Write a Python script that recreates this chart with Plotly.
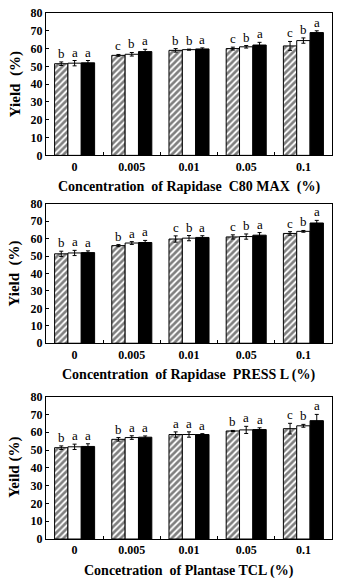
import plotly.graph_objects as go

categories = ["0", "0.005", "0.01", "0.05", "0.1"]

# Panel 1: Rapidase C80 MAX
p1_s1 = [51.5, 56.2, 59.0, 60.0, 61.5]
p1_s1_err = [1.0, 0.5, 1.0, 0.8, 2.5]
p1_s2 = [51.8, 56.8, 59.4, 61.0, 64.5]
p1_s2_err = [1.5, 1.0, 0.3, 0.7, 1.5]
p1_s3 = [52.0, 58.3, 59.8, 62.0, 69.0]
p1_s3_err = [1.3, 1.3, 0.6, 1.5, 1.0]
p1_letters = [["b", "c", "b", "c", "c"], ["a", "b", "b", "b", "b"], ["a", "a", "a", "a", "a"]]

# Panel 2: Rapidase PRESS L
p2_s1 = [51.3, 56.0, 59.8, 61.0, 63.0]
p2_s1_err = [1.5, 0.6, 1.8, 1.2, 1.0]
p2_s2 = [51.8, 57.5, 60.3, 61.2, 64.2]
p2_s2_err = [1.5, 0.8, 1.5, 1.5, 0.5]
p2_s3 = [52.0, 57.8, 60.7, 62.0, 69.0]
p2_s3_err = [1.0, 1.2, 1.0, 1.5, 1.5]
p2_letters = [["b", "b", "c", "c", "c"], ["a", "a", "b", "b", "b"], ["a", "a", "a", "a", "a"]]

# Panel 3: Plantase TCL
p3_s1 = [51.3, 56.0, 58.7, 60.7, 62.0]
p3_s1_err = [1.0, 1.0, 1.5, 0.3, 3.0]
p3_s2 = [51.8, 57.0, 58.7, 61.3, 63.6]
p3_s2_err = [1.5, 1.0, 1.5, 2.0, 0.8]
p3_s3 = [52.0, 57.2, 58.7, 61.5, 66.5]
p3_s3_err = [1.5, 0.7, 0.5, 1.0, 3.5]
p3_letters = [["b", "b", "a", "b", "c"], ["a", "a", "a", "a", "b"], ["a", "a", "a", "a", "a"]]

NB = "\u00a0"
x_titles = ["Concentration" + NB + " of Rapidase" + NB + " C80 MAX" + NB + " (%)",
            "Concentration" + NB + " of Rapidase" + NB + " PRESS L (%)",
            "Concetration" + NB + " of Plantase TCL (%)"]
y_titles = ["Yield" + NB + " (%)", "Yield" + NB + " (%)", "Yeild (%)"]
y_ticks = [0, 10, 20, 30, 40, 50, 60, 70, 80]

panels = [
    (p1_s1, p1_s1_err, p1_s2, p1_s2_err, p1_s3, p1_s3_err, p1_letters),
    (p2_s1, p2_s1_err, p2_s2, p2_s2_err, p2_s3, p2_s3_err, p2_letters),
    (p3_s1, p3_s1_err, p3_s2, p3_s2_err, p3_s3, p3_s3_err, p3_letters),
]

W, H = 338, 578
ml, mr, mt, mb = 46, 5, 6, 39
ph = H - mt - mb
def py(px):
    return (H - mb - px) / ph

domains = [(py(151), py(7)), (py(341), py(200)), (py(539), py(395))]

FONT = "Liberation Serif"
fig = go.Figure()

styles = [
    dict(marker=dict(color="white", line=dict(color="black", width=1),
                     pattern=dict(shape="/", fgcolor="black", bgcolor="white", size=4.5, solidity=0.6))),
    dict(marker=dict(color="white", line=dict(color="black", width=1))),
    dict(marker=dict(color="black", line=dict(color="black", width=1))),
]

offsets = [-1, 0, 1]
for i, (s1, e1, s2, e2, s3, e3, letters) in enumerate(panels):
    ax = "" if i == 0 else str(i + 1)
    for j, (vals, errs) in enumerate([(s1, e1), (s2, e2), (s3, e3)]):
        fig.add_trace(go.Bar(
            x=categories, y=vals, xaxis="x" + ax, yaxis="y" + ax,
            error_y=dict(type="data", array=errs, color="black", thickness=1, width=2),
            showlegend=False, offsetgroup=str(j), **styles[j]))
        for k, c in enumerate(categories):
            fig.add_annotation(
                x=k + offsets[j] * 0.2333, y=vals[k] + errs[k],
                xref="x" + ax, yref="y" + ax, text=letters[j][k],
                showarrow=False, yanchor="bottom", yshift=-1,
                font=dict(family=FONT, size=13, color="black"))
    fig.update_layout(**{
        "xaxis" + ax: dict(domain=[0, 1], anchor="y" + ax, type="category",
                           range=[-0.5, 4.5], ticks="inside", tickson="boundaries",
                           ticklen=3, tickcolor="black", showline=True, linecolor="black",
                           linewidth=1, mirror=True, showgrid=False,
                           tickfont=dict(family=FONT, size=12, color="black", weight="bold")),
        "yaxis" + ax: dict(domain=list(domains[i]), anchor="x" + ax, range=[0, 80],
                           tickvals=y_ticks, ticks="inside", ticklen=3, tickcolor="black",
                           showline=True, linecolor="black", linewidth=1, mirror=True,
                           showgrid=False, zeroline=False,
                           tickfont=dict(family=FONT, size=12, color="black", weight="bold")),
    })
    fig.add_annotation(
        x=0.5, y=0, xref="x" + ax + " domain", yref="y" + ax + " domain",
        text=x_titles[i], showarrow=False, yanchor="middle", yshift=-32,
        font=dict(family=FONT, size=14, color="black", weight="bold"))
    fig.add_annotation(
        x=0, y=0.5, xref="x" + ax + " domain", yref="y" + ax + " domain",
        text=y_titles[i], showarrow=False, textangle=-90, xanchor="center", xshift=-31,
        font=dict(family=FONT, size=15, color="black", weight="bold"))

fig.update_layout(
    width=W, height=H, margin=dict(l=ml, r=mr, t=mt, b=mb),
    barmode="group", bargap=0.3, bargroupgap=0,
    plot_bgcolor="white", paper_bgcolor="white",
    font=dict(family=FONT),
)

fig.write_html("out.html")
